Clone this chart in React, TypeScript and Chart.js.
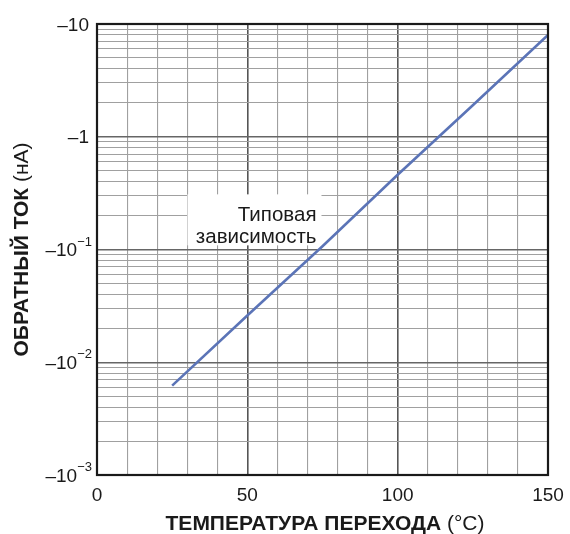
import React, { useEffect, useRef } from "react";
import { Chart, registerables } from "chart.js";

Chart.register(...registerables);

const temperatures = [25, 50, 75, 100, 125, 150];
const currents = [0.0062, 0.026, 0.107, 0.46, 1.9, 8.0];
const xTickLabels = [0, 50, 100, 150];
const yDecades = [10, 1, 0.1, 0.01, 0.001];
const yDecadeBase = ["–10", "–1", "–10", "–10", "–10"];
const yDecadeExp = ["", "", "−1", "−2", "−3"];
const noteLines = ["Типовая", "зависимость"];
const xTitleBold = "ТЕМПЕРАТУРА ПЕРЕХОДА";
const xTitleRest = " (°C)";
const yTitleBold = "ОБРАТНЫЙ ТОК";
const yTitleRest = " (нА)";

const FONT = "'Liberation Sans', Arial, sans-serif";

const isDecade = (v: number) => {
  const l = Math.log10(v);
  return Math.abs(l - Math.round(l)) < 1e-6;
};

const overlayPlugin = {
  id: "overlay",
  beforeDatasetsDraw(chart: any) {
    const { ctx, scales } = chart;
    const xs = scales.x;
    const ys = scales.y;
    const right = xs.getPixelForValue(73.0);
    const y1 = ys.getPixelForValue(0.205);
    const y2 = ys.getPixelForValue(0.131);
    ctx.save();
    ctx.fillStyle = "#ffffff";
    ctx.fillRect(right - 129, y1 - 20, 134, 51);
    ctx.fillStyle = "#1a1a1a";
    ctx.font = `20.5px ${FONT}`;
    ctx.textAlign = "right";
    ctx.textBaseline = "alphabetic";
    ctx.fillText(noteLines[0], right, y1 + 7);
    ctx.fillText(noteLines[1], right, y2 + 7);
    ctx.restore();
  },
  afterDraw(chart: any) {
    const { ctx, chartArea, scales } = chart;
    const ys = scales.y;
    ctx.save();
    ctx.strokeStyle = "#1a1a1a";
    ctx.lineWidth = 2.2;
    ctx.strokeRect(chartArea.left, chartArea.top, chartArea.right - chartArea.left, chartArea.bottom - chartArea.top);

    ctx.fillStyle = "#1a1a1a";
    ctx.textBaseline = "alphabetic";
    yDecades.forEach((v, i) => {
      const py = ys.getPixelForValue(v);
      const exp = yDecadeExp[i];
      const baseY = py + 6.5;
      if (!exp) {
        ctx.font = `19px ${FONT}`;
        ctx.textAlign = "right";
        ctx.fillText(yDecadeBase[i], chartArea.left - 8, baseY);
      } else {
        ctx.font = `13px ${FONT}`;
        const ew = ctx.measureText(exp).width;
        const xr = chartArea.left - 5;
        ctx.textAlign = "right";
        ctx.fillText(exp, xr, baseY - 10.5);
        ctx.font = `19px ${FONT}`;
        ctx.fillText(yDecadeBase[i], xr - ew, baseY);
      }
    });

    const cx = 325;
    ctx.font = `bold 21px ${FONT}`;
    const wb = ctx.measureText(xTitleBold).width;
    ctx.font = `21px ${FONT}`;
    const wr = ctx.measureText(xTitleRest).width;
    const sx = cx - (wb + wr) / 2;
    ctx.textAlign = "left";
    ctx.font = `bold 21px ${FONT}`;
    ctx.fillText(xTitleBold, sx, 530);
    ctx.font = `21px ${FONT}`;
    ctx.fillText(xTitleRest, sx + wb, 530);

    const cy = (chartArea.top + chartArea.bottom) / 2;
    ctx.font = `bold 21px ${FONT}`;
    const yb = ctx.measureText(yTitleBold).width;
    ctx.font = `21px ${FONT}`;
    const yr = ctx.measureText(yTitleRest).width;
    ctx.translate(28, cy);
    ctx.rotate(-Math.PI / 2);
    const st = -(yb + yr) / 2;
    ctx.font = `bold 21px ${FONT}`;
    ctx.fillText(yTitleBold, st, 0);
    ctx.font = `21px ${FONT}`;
    ctx.fillText(yTitleRest, st + yb, 0);
    ctx.restore();
  },
};

export default function App() {
  const ref = useRef<HTMLCanvasElement | null>(null);

  useEffect(() => {
    document.body.style.margin = "0";
    const canvas = ref.current;
    if (!canvas) return;
    const chart = new Chart(canvas, {
      type: "line",
      data: {
        datasets: [
          {
            data: temperatures.map((t, i) => ({ x: t, y: currents[i] })),
            borderColor: "#5b74b7",
            borderWidth: 2.6,
            pointRadius: 0,
            fill: false,
            tension: 0,
          },
        ],
      },
      options: {
        responsive: false,
        animation: false,
        layout: { padding: { top: 24, right: 22, left: 0, bottom: 0 } },
        plugins: {
          legend: { display: false },
          tooltip: { enabled: false },
        },
        scales: {
          x: {
            type: "linear",
            min: 0,
            max: 150,
            afterFit: (s: any) => {
              s.height = 59;
              s.paddingRight = 0;
              s.paddingLeft = 0;
            },
            afterBuildTicks: (s: any) => {
              const t = [];
              for (let v = 0; v <= 150; v += 10) t.push({ value: v });
              s.ticks = t;
            },
            ticks: {
              autoSkip: false,
              maxRotation: 0,
              padding: 9,
              color: "#1a1a1a",
              font: { family: FONT, size: 19 },
              callback: (v: any) => (xTickLabels.includes(Number(v)) ? String(v) : ""),
            },
            grid: {
              drawTicks: false,
              color: (c: any) => (c.tick && c.tick.value % 50 === 0 ? "#555555" : "#a0a0a0"),
              lineWidth: (c: any) => (c.tick && c.tick.value % 50 === 0 ? 1.6 : 1.1),
            },
            border: { display: false },
          },
          y: {
            type: "logarithmic",
            min: 0.001,
            max: 10,
            afterFit: (s: any) => {
              s.width = 97;
              s.paddingTop = 0;
              s.paddingBottom = 0;
            },
            afterBuildTicks: (s: any) => {
              const t: any[] = [];
              for (let e = -3; e <= 0; e++) {
                for (let m = 1; m <= 9; m++) {
                  t.push({ value: Number((m * Math.pow(10, e)).toPrecision(6)) });
                }
              }
              t.push({ value: 10 });
              s.ticks = t;
            },
            ticks: { display: false },
            grid: {
              drawTicks: false,
              color: (c: any) => (c.tick && isDecade(c.tick.value) ? "#666666" : "#a0a0a0"),
              lineWidth: (c: any) => (c.tick && isDecade(c.tick.value) ? 1.4 : 1.1),
            },
            border: { display: false },
          },
        },
      },
      plugins: [overlayPlugin],
    });
    return () => chart.destroy();
  }, []);

  return <canvas ref={ref} width={570} height={534} style={{ display: "block" }} />;
}
